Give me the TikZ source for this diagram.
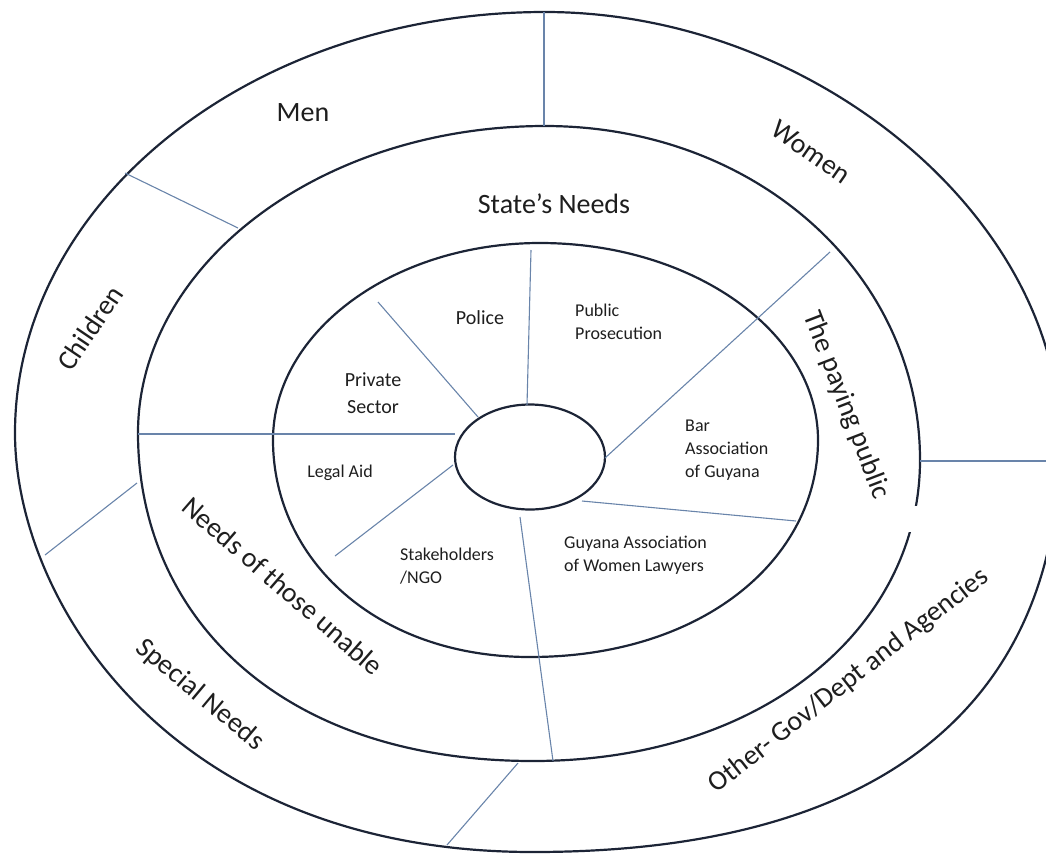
\documentclass[tikz,border=0pt]{standalone}
\usepackage{fontspec}
\setmainfont{Carlito}
\usetikzlibrary{shapes.geometric}

\definecolor{ringline}{RGB}{28,36,54}
\definecolor{cutline}{RGB}{105,132,170}
\definecolor{labeltext}{RGB}{30,30,30}

\tikzset{
  ring/.style={draw=ringline, line width=2.2pt},
  cut/.style={draw=cutline, line width=1.1pt},
  bigtext/.style={text=labeltext, font=\fontsize{28}{32}\selectfont, inner sep=0pt},
  midtext/.style={text=labeltext, font=\fontsize{20}{27}\selectfont, align=center, inner sep=0pt},
  smalltext/.style={text=labeltext, font=\fontsize{18}{23}\selectfont, align=left, inner sep=0pt},
}

\begin{document}
\begin{tikzpicture}[x=1pt, y=-1pt]
    \useasboundingbox (0,0) rectangle (1046,855);
    \clip (0,0) rectangle (1046,855);

    % Rings
    \draw[ring] (15,433) .. controls +(0,-232) and +(-293,0) .. (545,12)
        .. controls +(268,0) and +(0,-223) .. (1060,440)
        .. controls +(0,239) and +(379,0) .. (533,852)
        .. controls +(-363,0) and +(0,168) .. (15,433) -- cycle;
    \draw[ring] (138,433) .. controls +(0,-169) and +(-224,0) .. (545,126)
        .. controls +(210,0) and +(0,-187) .. (920,460)
        .. controls +(0,166) and +(232,0) .. (533,761)
        .. controls +(-257,0) and +(0,180) .. (138,433) -- cycle;
    \fill[white] (896,506) rectangle (930,532);
    \draw[ring] (273,440) .. controls +(0,-108) and +(-147,0) .. (540,243)
        .. controls +(153,0) and +(0,-108) .. (818,440)
        .. controls +(0,119) and +(173,0) .. (530,657)
        .. controls +(-154,0) and +(0,119) .. (273,440) -- cycle;
    \node[ring, ellipse, minimum width=150pt, minimum height=105pt, inner sep=0pt] (hub) at (530,457) {};

    % Dividers
    \draw[cut] (544,12) -- (544,126);
    \draw[cut] (125,173) -- (238,228);
    \draw[cut] (137,483) -- (45,555);
    \draw[cut] (518,763) -- (447,845);
    \draw[cut] (920,461) -- (1046,461);
    \draw[cut] (138,434) -- (455,434);
    \draw[cut] (605,458) -- (830,252);
    \draw[cut] (520,517) -- (553,761);
    \draw[cut] (531,250) -- (527,405);
    \draw[cut] (378,302) -- (478,417);
    \draw[cut] (453,465) -- (335,556);
    \draw[cut] (582,501) -- (796,521);

    % Outer ring labels
    \node[bigtext] (men) at (303,113) {Men};
    \node[bigtext, rotate=-35] (women) at (811,152) {Women};
    \node[bigtext, rotate=56] (children) at (90,328) {Children};
    \node[bigtext, rotate=-40] (special) at (200,695) {Special Needs};
    \node[bigtext, rotate=38] (othergov) at (849,681) {Other- Gov/Dept and Agencies};

    % Middle ring labels
    \node[bigtext] (state) at (554,204) {State’s Needs};
    \node[bigtext, rotate=-69] (paying) at (846,405) {The paying public};
    \node[bigtext, rotate=-41] (unable) at (283,586) {Needs of those unable};

    % Inner ring labels
    \node[midtext] (police) at (480,318) {Police};
    \node[midtext] (private) at (373,393) {Private\\Sector};
    \node[smalltext, anchor=west] (prosecution) at (575,322) {Public\\Prosecution};
    \node[smalltext, anchor=west] (bar) at (685,450) {Bar\\Association\\of Guyana};
    \node[smalltext, anchor=west] (gawl) at (564,555) {Guyana Association\\of Women Lawyers};
    \node[smalltext] (legalaid) at (340,473) {Legal Aid};
    \node[smalltext, anchor=west] (stake) at (400,566) {Stakeholders\\/NGO};
\end{tikzpicture}
\end{document}
